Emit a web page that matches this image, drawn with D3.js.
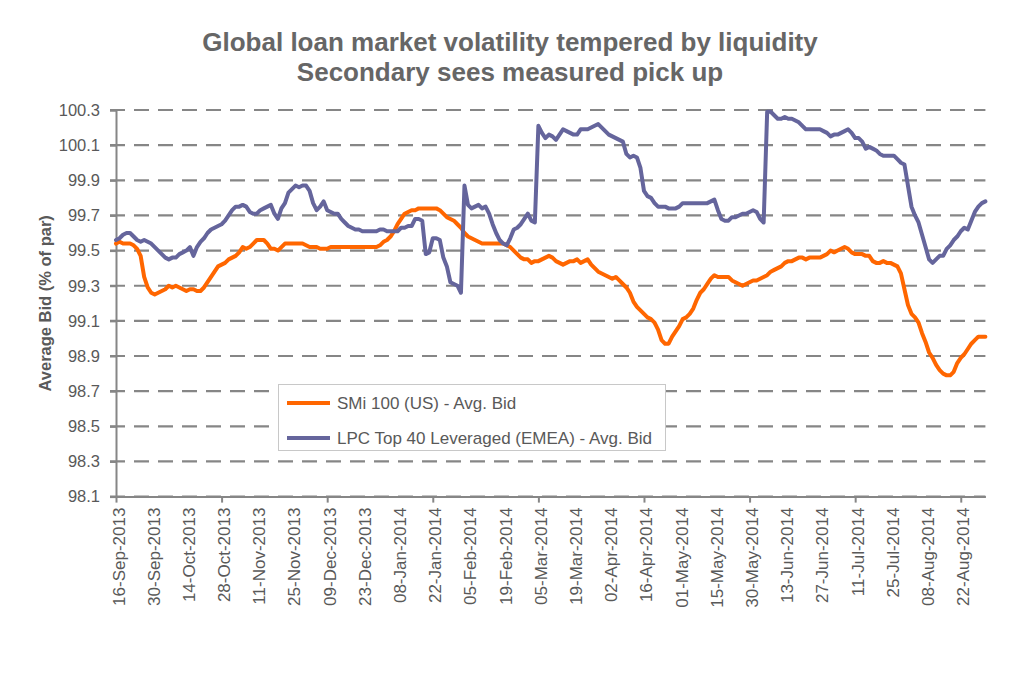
<!DOCTYPE html>
<html><head><meta charset="utf-8">
<script src="https://cdn.jsdelivr.net/npm/d3@7/dist/d3.min.js"></script>
<style>html,body{margin:0;padding:0;background:#fff;}svg{display:block;font-family:"Liberation Sans",Arial,sans-serif;}</style>
</head><body><svg id="c" width="1024" height="682"></svg>
<script>
const tickLabels = ["16-Sep-2013","30-Sep-2013","14-Oct-2013","28-Oct-2013","11-Nov-2013","25-Nov-2013","09-Dec-2013","23-Dec-2013","08-Jan-2014","22-Jan-2014","05-Feb-2014","19-Feb-2014","05-Mar-2014","19-Mar-2014","02-Apr-2014","16-Apr-2014","01-May-2014","15-May-2014","30-May-2014","13-Jun-2014","27-Jun-2014","11-Jul-2014","25-Jul-2014","08-Aug-2014","22-Aug-2014"];
const yTicks = [98.1,98.3,98.5,98.7,98.9,99.1,99.3,99.5,99.7,99.9,100.1,100.3];
const seriesNames = ["SMi 100 (US) - Avg. Bid","LPC Top 40 Leveraged (EMEA) - Avg. Bid"];
const smi = [
99.54,99.55,99.54,99.54,99.54,99.53,99.51,99.47,99.35,99.29,
99.26,99.25,99.26,99.27,99.28,99.30,99.29,99.30,99.29,99.28,
99.27,99.28,99.28,99.27,99.27,99.29,99.32,99.35,99.38,99.41,
99.42,99.43,99.45,99.46,99.47,99.49,99.52,99.51,99.52,99.54,
99.56,99.56,99.56,99.54,99.51,99.51,99.50,99.52,99.54,99.54,
99.54,99.54,99.54,99.54,99.53,99.52,99.52,99.52,99.51,99.51,
99.51,99.52,99.52,99.52,99.52,99.52,99.52,99.52,99.52,99.52,
99.52,99.52,99.52,99.52,99.52,99.53,99.55,99.56,99.58,99.61,
99.65,99.68,99.71,99.72,99.73,99.73,99.74,99.74,99.74,99.74,
99.74,99.74,99.73,99.71,99.69,99.68,99.67,99.65,99.63,99.60,
99.58,99.57,99.56,99.55,99.54,99.54,99.54,99.54,99.54,99.54,
99.54,99.53,99.52,99.50,99.48,99.46,99.45,99.45,99.43,99.44,
99.44,99.45,99.46,99.47,99.46,99.44,99.43,99.42,99.43,99.44,
99.44,99.45,99.43,99.44,99.45,99.42,99.40,99.38,99.37,99.36,
99.35,99.34,99.35,99.33,99.31,99.29,99.26,99.21,99.18,99.16,
99.14,99.12,99.11,99.09,99.05,98.99,98.97,98.97,99.01,99.04,
99.07,99.11,99.12,99.14,99.17,99.22,99.26,99.28,99.31,99.34,
99.36,99.35,99.35,99.35,99.35,99.33,99.32,99.31,99.30,99.31,
99.32,99.33,99.33,99.34,99.35,99.36,99.38,99.39,99.40,99.41,
99.43,99.44,99.44,99.45,99.46,99.46,99.45,99.46,99.46,99.46,
99.46,99.47,99.48,99.50,99.49,99.50,99.51,99.52,99.51,99.49,
99.48,99.48,99.48,99.47,99.47,99.44,99.43,99.43,99.44,99.43,
99.43,99.42,99.41,99.37,99.28,99.19,99.14,99.12,99.09,99.03,
98.98,98.92,98.89,98.85,98.82,98.80,98.79,98.79,98.81,98.86,
98.89,98.91,98.94,98.97,98.99,99.01,99.01,99.01];
const lpc = [
99.56,99.57,99.59,99.60,99.60,99.58,99.56,99.55,99.56,99.55,
99.54,99.52,99.50,99.48,99.46,99.45,99.46,99.46,99.48,99.49,
99.50,99.52,99.47,99.52,99.55,99.57,99.60,99.62,99.63,99.64,
99.65,99.67,99.70,99.73,99.75,99.75,99.76,99.75,99.72,99.71,
99.71,99.73,99.74,99.75,99.76,99.71,99.68,99.74,99.77,99.83,
99.85,99.87,99.86,99.87,99.87,99.84,99.77,99.73,99.75,99.78,
99.73,99.72,99.71,99.71,99.68,99.66,99.64,99.63,99.62,99.62,
99.61,99.61,99.61,99.61,99.61,99.62,99.62,99.61,99.61,99.61,
99.61,99.63,99.63,99.64,99.64,99.68,99.68,99.67,99.48,99.49,
99.57,99.57,99.56,99.46,99.41,99.32,99.31,99.30,99.26,99.87,
99.76,99.74,99.75,99.76,99.74,99.75,99.71,99.65,99.60,99.56,
99.54,99.53,99.57,99.62,99.63,99.65,99.68,99.71,99.67,99.66,
100.21,100.17,100.14,100.16,100.15,100.13,100.16,100.19,100.18,100.17,
100.16,100.16,100.19,100.19,100.19,100.20,100.21,100.22,100.20,100.18,
100.16,100.15,100.14,100.13,100.12,100.05,100.03,100.04,100.03,99.97,
99.84,99.81,99.80,99.77,99.75,99.75,99.75,99.74,99.74,99.74,
99.75,99.77,99.77,99.77,99.77,99.77,99.77,99.77,99.77,99.78,
99.79,99.73,99.68,99.67,99.67,99.69,99.69,99.70,99.71,99.71,
99.72,99.73,99.72,99.68,99.66,100.29,100.29,100.27,100.25,100.25,
100.26,100.25,100.25,100.24,100.23,100.21,100.19,100.19,100.19,100.19,
100.19,100.18,100.17,100.15,100.16,100.16,100.17,100.18,100.19,100.17,
100.14,100.14,100.12,100.08,100.09,100.08,100.07,100.05,100.04,100.04,
100.04,100.04,100.02,100.00,99.99,99.87,99.75,99.70,99.66,99.59,
99.52,99.45,99.43,99.45,99.47,99.47,99.51,99.53,99.56,99.58,
99.61,99.63,99.62,99.67,99.72,99.75,99.77,99.78];
const labelStep = 10, majorStep = 30;
const colors = ["#FF6600", "#65659C"];

const svg = d3.select("#c");
const L = 116, R = 985.4, T = 110, B = 496.6;
const x = d3.scaleLinear().domain([0, smi.length - 1]).range([L, R]);
const y = d3.scaleLinear().domain([98.1, 100.3]).range([B, T]);
const txt = "#595959", axisCol = "#868686";

// title
const title = svg.append("g").attr("font-weight","bold").attr("font-size",26).attr("fill","#666").attr("text-anchor","middle");
title.append("text").attr("x",510).attr("y",51).text("Global loan market volatility tempered by liquidity");
title.append("text").attr("x",510).attr("y",81).text("Secondary sees measured pick up");

// gridlines
svg.append("g").selectAll("line").data(yTicks).join("line")
  .attr("x1", L - 6).attr("x2", R).attr("y1", d => y(d)).attr("y2", d => y(d))
  .attr("stroke", axisCol).attr("stroke-width", 2.2).attr("stroke-dasharray", "15,9");

// y axis
const yAxis = d3.axisLeft(y).tickValues(yTicks).tickFormat(d3.format(".1f")).tickSize(6).tickPadding(10);
const gy = svg.append("g").attr("transform", `translate(${L},0)`).call(yAxis);
gy.select(".domain").attr("stroke", axisCol).attr("stroke-width", 2);
gy.selectAll(".tick line").attr("stroke", axisCol).attr("stroke-width", 2);
gy.selectAll(".tick text").attr("font-size", 16.5).attr("fill", txt).attr("font-family", '"Liberation Sans",Arial,sans-serif');

// x axis
const xAxis = d3.axisBottom(x).tickValues(d3.range(0, smi.length, majorStep)).tickFormat("").tickSize(6).tickSizeOuter(0);
const gx = svg.append("g").attr("transform", `translate(0,${B})`).call(xAxis);
gx.select(".domain").attr("stroke", axisCol).attr("stroke-width", 2);
gx.selectAll(".tick line").attr("stroke", axisCol).attr("stroke-width", 2);

svg.append("g").selectAll("text").data(tickLabels).join("text")
  .attr("transform", (d, i) => `translate(${x(i * labelStep) + 8.5},${B + 11}) rotate(-90)`)
  .attr("text-anchor", "end").attr("font-size", 17).attr("fill", txt).text(d => d);

// y title
svg.append("text").attr("transform", `translate(51,${(T + B) / 2}) rotate(-90)`)
  .attr("text-anchor", "middle").attr("font-weight", "bold").attr("font-size", 16.5).attr("fill", txt)
  .text("Average Bid (% of par)");

// lines
const line = d3.line().x((d, i) => x(i)).y(d => y(d)).curve(d3.curveLinear);
[smi, lpc].forEach((s, k) => {
  svg.append("path").datum(s).attr("d", line).attr("fill", "none")
    .attr("stroke", colors[k]).attr("stroke-width", 4).attr("stroke-linejoin", "round").attr("stroke-linecap", "round");
});

// legend
const lg = svg.append("g");
lg.append("rect").attr("x", 278.5).attr("y", 384.5).attr("width", 387).attr("height", 66)
  .attr("fill", "#fff").attr("stroke", "#c8c8c8").attr("stroke-width", 1);
seriesNames.forEach((n, k) => {
  const yy = 403 + k * 35;
  lg.append("line").attr("x1", 287).attr("x2", 330).attr("y1", yy).attr("y2", yy)
    .attr("stroke", colors[k]).attr("stroke-width", 4);
  lg.append("text").attr("x", 337).attr("y", yy + 6).attr("font-size", 17).attr("fill", txt).text(n);
});
</script></body></html>
